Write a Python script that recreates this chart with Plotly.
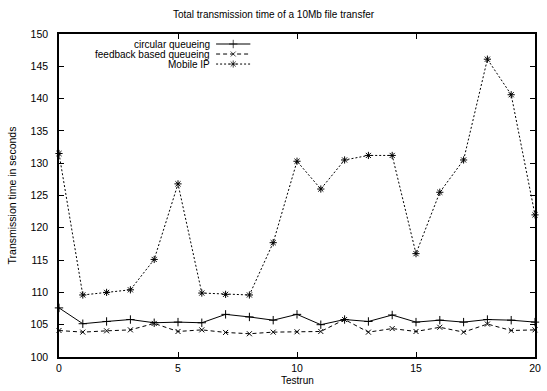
import plotly.graph_objects as go

testrun = list(range(21))
circular = [107.6, 105.15, 105.5, 105.8, 105.3, 105.4, 105.3, 106.6, 106.2, 105.7, 106.6,
            105.0, 105.8, 105.5, 106.5, 105.4, 105.7, 105.4, 105.8, 105.7, 105.4]
feedback = [104.1, 103.85, 104.05, 104.2, 105.2, 103.95, 104.2, 103.8, 103.6, 103.85, 103.9,
            103.95, 105.8, 103.85, 104.4, 103.95, 104.6, 103.85, 105.1, 104.1, 104.2]
mobile_ip = [131.5, 109.6, 110.0, 110.4, 115.1, 126.8, 109.9, 109.7, 109.6, 117.7, 130.3,
             126.0, 130.5, 131.2, 131.2, 116.0, 125.5, 130.5, 146.1, 140.6, 122.0]

names = ["circular queueing", "feedback based queueing", "Mobile IP"]
series = [circular, feedback, mobile_ip]
dashes = ["solid", "4px,3px", "2px,2px"]
symbols = ["cross-thin-open", "x-thin-open", "asterisk-open"]
msizes = [6, 5, 6]

FONT = "Liberation Sans, Arial, sans-serif"

fig = go.Figure()
for name, ys, d, s, ms in zip(names, series, dashes, symbols, msizes):
    fig.add_trace(go.Scatter(
        x=testrun, y=ys, mode="lines+markers", name=name, showlegend=False,
        line=dict(color="black", width=1, dash=d),
        marker=dict(symbol=s, size=ms, color="black", line=dict(color="black", width=1)),
        cliponaxis=False,
    ))

# custom gnuplot-style legend (text left, sample right)
leg_y = [0.969, 0.938, 0.907]
for name, d, s, ms, yy in zip(names, dashes, symbols, msizes, leg_y):
    fig.add_trace(go.Scatter(
        x=[0.330, 0.366, 0.402], y=[yy, yy, yy], mode="lines+markers",
        xaxis="x2", yaxis="y2", showlegend=False, hoverinfo="skip",
        line=dict(color="black", width=1, dash=d),
        marker=dict(symbol=s, size=[0, ms, 0], color="black", line=dict(color="black", width=1)),
    ))
    fig.add_annotation(x=0.322, y=yy, xref="paper", yref="paper", text=name,
                       showarrow=False, xanchor="right", yanchor="middle",
                       font=dict(family=FONT, size=10, color="black"))

# x-axis title placed like gnuplot's
fig.add_annotation(x=0.5, y=-0.073, xref="paper", yref="paper", text="Testrun",
                   showarrow=False, xanchor="center", yanchor="middle",
                   font=dict(family=FONT, size=10, color="black"))

axis_common = dict(
    showgrid=False, zeroline=False, showline=True, linecolor="black", linewidth=1.5,
    mirror="ticks", ticks="inside", ticklen=5, tickcolor="black", tickwidth=1,
    tickfont=dict(family=FONT, size=10.5, color="black"),
)

fig.update_layout(
    width=547, height=391,
    margin=dict(l=59, r=6, t=34, b=34),
    paper_bgcolor="white", plot_bgcolor="white",
    title=dict(text="Total transmission time of a 10Mb file transfer",
               x=0.5, xanchor="center", y=0.962, yanchor="middle",
               font=dict(family=FONT, size=10, color="black")),
    xaxis=dict(range=[0, 20], tickvals=[0, 5, 10, 15, 20],
               ticklabelstandoff=1, **axis_common),
    yaxis=dict(range=[100, 150], tickvals=list(range(100, 151, 5)),
               title=dict(text="Transmission time in seconds", standoff=12,
                          font=dict(family=FONT, size=10.5, color="black")),
               ticklabelstandoff=7, **axis_common),
    xaxis2=dict(range=[0, 1], overlaying="x", visible=False, fixedrange=True),
    yaxis2=dict(range=[0, 1], overlaying="y", visible=False, fixedrange=True),
    showlegend=False,
)

fig.write_html("out.html")
